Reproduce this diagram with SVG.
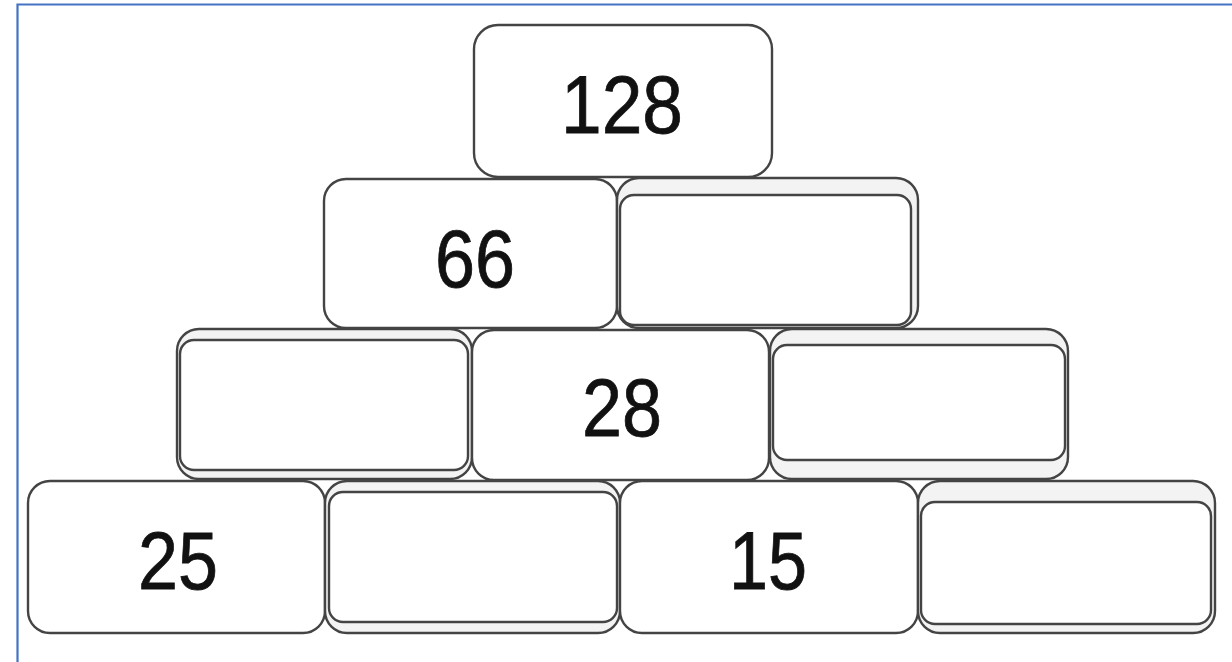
<svg xmlns="http://www.w3.org/2000/svg" width="1232" height="662" viewBox="0 0 1232 662">
  <style>
    .outer { fill: #f3f3f3; stroke: #444444; stroke-width: 2.4; }
    .face { fill: #ffffff; stroke: #444444; stroke-width: 2.4; }
    .num { font-family: "Liberation Sans", Arial, sans-serif; font-size: 82px; fill: #111111; text-anchor: middle; stroke: #111111; stroke-width: 0.8; }
  </style>
  <rect x="0" y="0" width="1232" height="662" fill="#ffffff"/>
  <path d="M17.5,662 V4.5 H1232" fill="none" stroke="#4472c4" stroke-width="2.2"/>

  <!-- Row 1 -->
  <g id="brick-128">
    <rect class="face" x="474" y="25" width="298" height="152" rx="24"/>
    <text class="num" x="622" y="133" textLength="122" lengthAdjust="spacingAndGlyphs">128</text>
  </g>

  <!-- Row 2 -->
  <g id="brick-66">
    <rect class="face" x="324" y="179" width="293" height="149" rx="22"/>
    <text class="num" x="475" y="287" textLength="80" lengthAdjust="spacingAndGlyphs">66</text>
  </g>
  <g id="brick-r2-empty">
    <rect class="outer" x="617" y="178" width="301" height="150" rx="22"/>
    <rect class="face" x="620" y="195" width="291" height="130" rx="14"/>
  </g>

  <!-- Row 3 -->
  <g id="brick-r3-left-empty">
    <rect class="outer" x="177" y="329" width="295" height="150" rx="22"/>
    <rect class="face" x="180" y="340" width="288" height="130" rx="14"/>
  </g>
  <g id="brick-28">
    <rect class="face" x="472" y="330" width="297" height="150" rx="22"/>
    <text class="num" x="622" y="436" textLength="80" lengthAdjust="spacingAndGlyphs">28</text>
  </g>
  <g id="brick-r3-right-empty">
    <rect class="outer" x="770" y="329" width="298" height="150" rx="22"/>
    <rect class="face" x="773" y="345" width="292" height="115" rx="14"/>
  </g>

  <!-- Row 4 -->
  <g id="brick-25">
    <rect class="face" x="28" y="481" width="297" height="152" rx="22"/>
    <text class="num" x="178" y="589" textLength="80" lengthAdjust="spacingAndGlyphs">25</text>
  </g>
  <g id="brick-r4-empty-a">
    <rect class="outer" x="325" y="481" width="295" height="152" rx="22"/>
    <rect class="face" x="329" y="492" width="288" height="130" rx="14"/>
  </g>
  <g id="brick-15">
    <rect class="face" x="620" y="481" width="298" height="152" rx="22"/>
    <text class="num" x="768" y="589" textLength="78" lengthAdjust="spacingAndGlyphs">15</text>
  </g>
  <g id="brick-r4-empty-b">
    <rect class="outer" x="918" y="481" width="297" height="152" rx="22"/>
    <rect class="face" x="921" y="502" width="290" height="122" rx="14"/>
  </g>
</svg>
